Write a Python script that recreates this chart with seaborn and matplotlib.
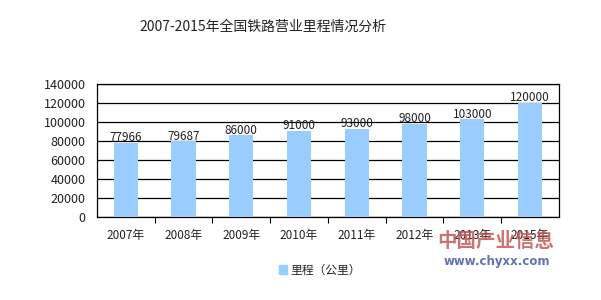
import matplotlib
matplotlib.use("Agg")
import matplotlib.pyplot as plt
import pandas as pd
import seaborn as sns
from matplotlib.patches import Patch
from matplotlib.ticker import FixedLocator

years = ["2007年", "2008年", "2009年", "2010年", "2011年", "2012年", "2013年", "2015年"]
mileage = [77966, 79687, 86000, 91000, 93000, 98000, 103000, 120000]
title = "2007-2015年全国铁路营业里程情况分析"
series_name = "里程（公里）"

df = pd.DataFrame({"year": years, "km": mileage})

sns.set_theme(style="white")
plt.rcParams["font.family"] = ["Noto Sans CJK SC", "DejaVu Sans"]

fig = plt.figure(figsize=(6.01, 3.0), dpi=100)
ax = fig.add_axes([0.161, 0.277, 0.769, 0.443])

sns.barplot(data=df, x="year", y="km", color="#99CCFF", saturation=1,
            width=0.42, linewidth=0, ax=ax, zorder=3)

for c in ax.containers:
    ax.bar_label(c, labels=[str(v) for v in mileage], padding=-1,
                 fontsize=8.5, color="#222222", zorder=4)

ax.set_ylim(0, 140000)
ax.set_yticks(range(0, 140001, 20000))
ax.set_xlim(-0.5, len(years) - 0.5)
ax.yaxis.grid(True, color="black", linewidth=0.9, zorder=0)
ax.set_axisbelow(True)
for s in ax.spines.values():
    s.set_color("black")
    s.set_linewidth(0.9)

ax.tick_params(axis="y", length=0, labelsize=9, pad=8, colors="#222222")
ax.tick_params(axis="x", which="major", length=0, labelsize=8.5, pad=9, colors="#222222")
ax.xaxis.set_minor_locator(FixedLocator([i + 0.5 for i in range(len(years) - 1)]))
ax.tick_params(axis="x", which="minor", length=4, width=0.8, color="black", bottom=True)
ax.set_xlabel("")
ax.set_ylabel("")

fig.text(0.438, 0.91, title, ha="center", va="center", fontsize=10, color="#222222")

fig.legend(handles=[Patch(color="#99CCFF", label=series_name)],
           loc="center", bbox_to_anchor=(0.532, 0.1), frameon=False,
           fontsize=8.5, handlelength=0.7, handleheight=0.7, handletextpad=0.3)

# watermark
fig.text(0.825, 0.195, "中国产业信息", ha="center", va="center", fontsize=14,
         fontweight="bold", color="#C0504D", alpha=0.8)
fig.text(0.827, 0.128, "www.chyxx.com", ha="center", va="center", fontsize=8.5,
         fontweight="bold", color="#3B4F9A", alpha=0.8, family="DejaVu Sans")

fig.savefig("out.png", dpi=100)
